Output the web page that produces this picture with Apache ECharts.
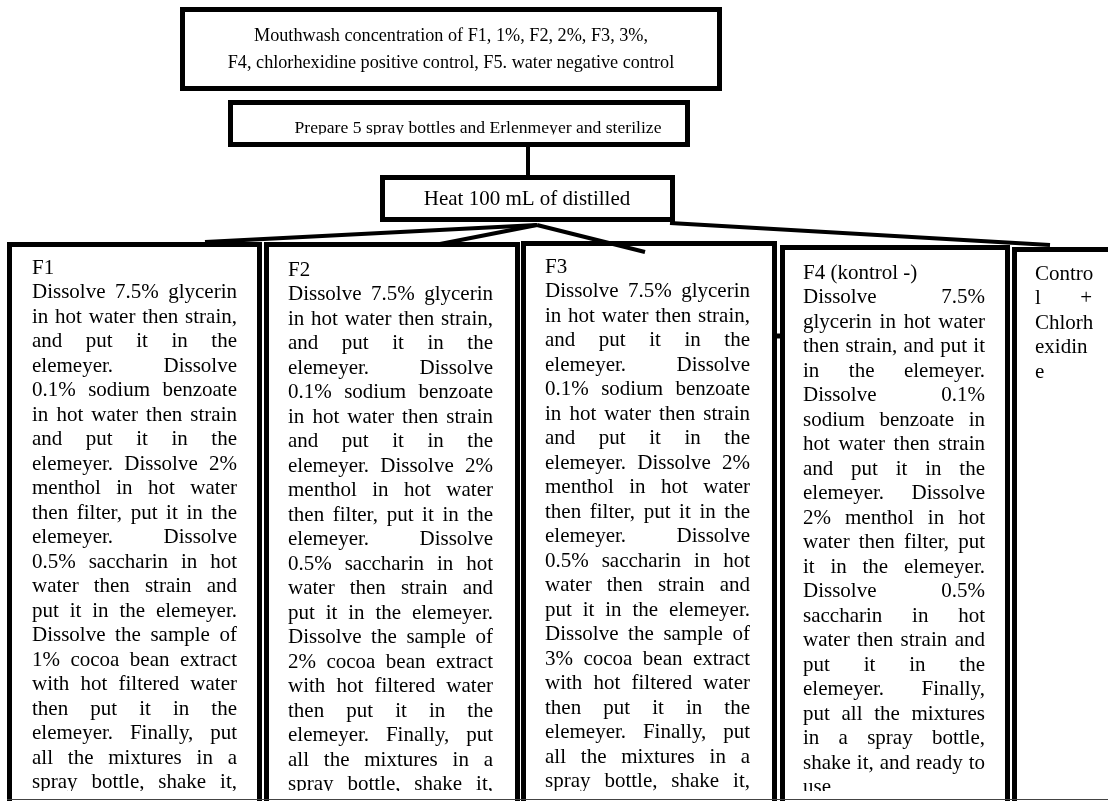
<!DOCTYPE html>
<html><head><meta charset="utf-8">
<script src="https://cdn.jsdelivr.net/npm/echarts@6/dist/echarts.min.js"></script>
<style>html,body{margin:0;padding:0;background:#fff}#c{width:1108px;height:801px}</style>
</head><body><div id="c"></div>
<script>
// ---- text content ----
const headerLines = [
  "Mouthwash concentration of F1, 1%, F2, 2%, F3, 3%,",
  "F4, chlorhexidine positive control, F5. water negative control"
];
const prepareText = "Prepare 5 spray bottles and Erlenmeyer and sterilize";
const heatText = "Heat 100 mL of distilled";
const f1Lines = ["F1","Dissolve 7.5% glycerin","in hot water then strain,","and put it in the","elemeyer. Dissolve","0.1% sodium benzoate","in hot water then strain","and put it in the","elemeyer. Dissolve 2%","menthol in hot water","then filter, put it in the","elemeyer. Dissolve","0.5% saccharin in hot","water then strain and","put it in the elemeyer.","Dissolve the sample of","1% cocoa bean extract","with hot filtered water","then put it in the","elemeyer. Finally, put","all the mixtures in a","spray bottle, shake it,"];
const f2Lines = ["F2","Dissolve 7.5% glycerin","in hot water then strain,","and put it in the","elemeyer. Dissolve","0.1% sodium benzoate","in hot water then strain","and put it in the","elemeyer. Dissolve 2%","menthol in hot water","then filter, put it in the","elemeyer. Dissolve","0.5% saccharin in hot","water then strain and","put it in the elemeyer.","Dissolve the sample of","2% cocoa bean extract","with hot filtered water","then put it in the","elemeyer. Finally, put","all the mixtures in a","spray bottle, shake it,"];
const f3Lines = ["F3","Dissolve 7.5% glycerin","in hot water then strain,","and put it in the","elemeyer. Dissolve","0.1% sodium benzoate","in hot water then strain","and put it in the","elemeyer. Dissolve 2%","menthol in hot water","then filter, put it in the","elemeyer. Dissolve","0.5% saccharin in hot","water then strain and","put it in the elemeyer.","Dissolve the sample of","3% cocoa bean extract","with hot filtered water","then put it in the","elemeyer. Finally, put","all the mixtures in a","spray bottle, shake it,"];
const f4Lines = ["F4 (kontrol -)","Dissolve 7.5%","glycerin in hot water","then strain, and put it","in the elemeyer.","Dissolve 0.1%","sodium benzoate in","hot water then strain","and put it in the","elemeyer. Dissolve","2% menthol in hot","water then filter, put","it in the elemeyer.","Dissolve 0.5%","saccharin in hot","water then strain and","put it in the","elemeyer. Finally,","put all the mixtures","in a spray bottle,","shake it, and ready to","use"];
const f5Lines = ["Contro","l +","Chlorh","exidin","e"];

// ---- layout ----
const FONT = '"Liberation Serif", "Times New Roman", serif';
const cv = document.createElement('canvas').getContext('2d');
function tw(s, size){ cv.font = size + 'px ' + FONT; return cv.measureText(s).width; }

const els = [];
function txt(s, x, y, size, align, z){
  els.push({type:'text', z: z||1, style:{text:s, x:x, y:y, fill:'#000', fontSize:size, fontFamily:FONT, align:align||'left', verticalAlign:'middle'}});
}
function para(lines, x0, width, y0, lh, size, noJustify){
  lines.forEach(function(line, i){
    const y = y0 + i*lh;
    const words = line.split(' ');
    if (noJustify.indexOf(i) >= 0 || words.length < 2){ txt(line, x0, y, size); return; }
    const ws = words.map(function(w){return tw(w,size);});
    const tot = ws.reduce(function(a,b){return a+b;},0);
    const gap = (width - tot)/(words.length-1);
    let x = x0;
    words.forEach(function(w,j){ txt(w, x, y, size); x += ws[j] + gap; });
  });
}
function box(x0, y0, x1, y1, lw, z){
  els.push({type:'rect', z: z||3, shape:{x:x0+lw/2, y:y0+lw/2, width:x1-x0-lw, height:y1-y0-lw}, style:{fill:'transparent', stroke:'#000', lineWidth:lw}});
}
function cover(x0, y0, x1, y1){
  els.push({type:'rect', z:2, shape:{x:x0, y:y0, width:x1-x0, height:y1-y0}, style:{fill:'#fff'}});
}
function seg(x0,y0,x1,y1,lw,color,z){
  els.push({type:'line', z: z||4, shape:{x1:x0,y1:y0,x2:x1,y2:y1}, style:{stroke:color||'#000', lineWidth:lw}});
}

// header box
box(180, 7, 722, 91, 5);
txt(headerLines[0], 451, 36, 18.2, 'center');
txt(headerLines[1], 451, 63, 18.2, 'center');
// prepare box
txt(prepareText, 478, 128, 17.6, 'center');
cover(233, 134.5, 685, 142);
box(228, 100, 690, 147, 5);
seg(528, 146, 528, 176, 4);
// heat box
box(380, 175, 675, 222, 5);
txt(heatText, 527, 199, 21, 'center');

// columns
const LH = 24.5, FS = 21;
para(f1Lines, 32, 205, 268, LH, FS, [0]);
para(f2Lines, 288, 205, 270, LH, FS, [0]);
para(f3Lines, 545, 205, 267, LH, FS, [0]);
para(f4Lines, 803, 182, 273, LH, FS, [0, 21]);
para(f5Lines, 1035, 57, 274, LH, FS, [4]);
cover(0, 791, 1108, 801);
box(7, 242, 262, 840, 5);
box(264, 242, 520, 840, 5);
box(521, 241, 777, 840, 5);
box(780, 245, 1010, 840, 5);
box(1012, 247, 1140, 840, 5);
seg(774, 336, 783, 336, 5);
seg(7, 799.5, 1108, 799.5, 1.2, '#444', 5);

// connectors from heat box
seg(537, 225, 205, 242, 4);
seg(537, 225, 440, 244, 4);
seg(537, 225, 645, 252, 4);
seg(670, 223, 1050, 245, 4);

const chart = echarts.init(document.getElementById('c'), null, {renderer:'canvas'});
chart.setOption({backgroundColor:'#fff', animation:false, graphic:{elements: els}});
</script>
</body></html>
